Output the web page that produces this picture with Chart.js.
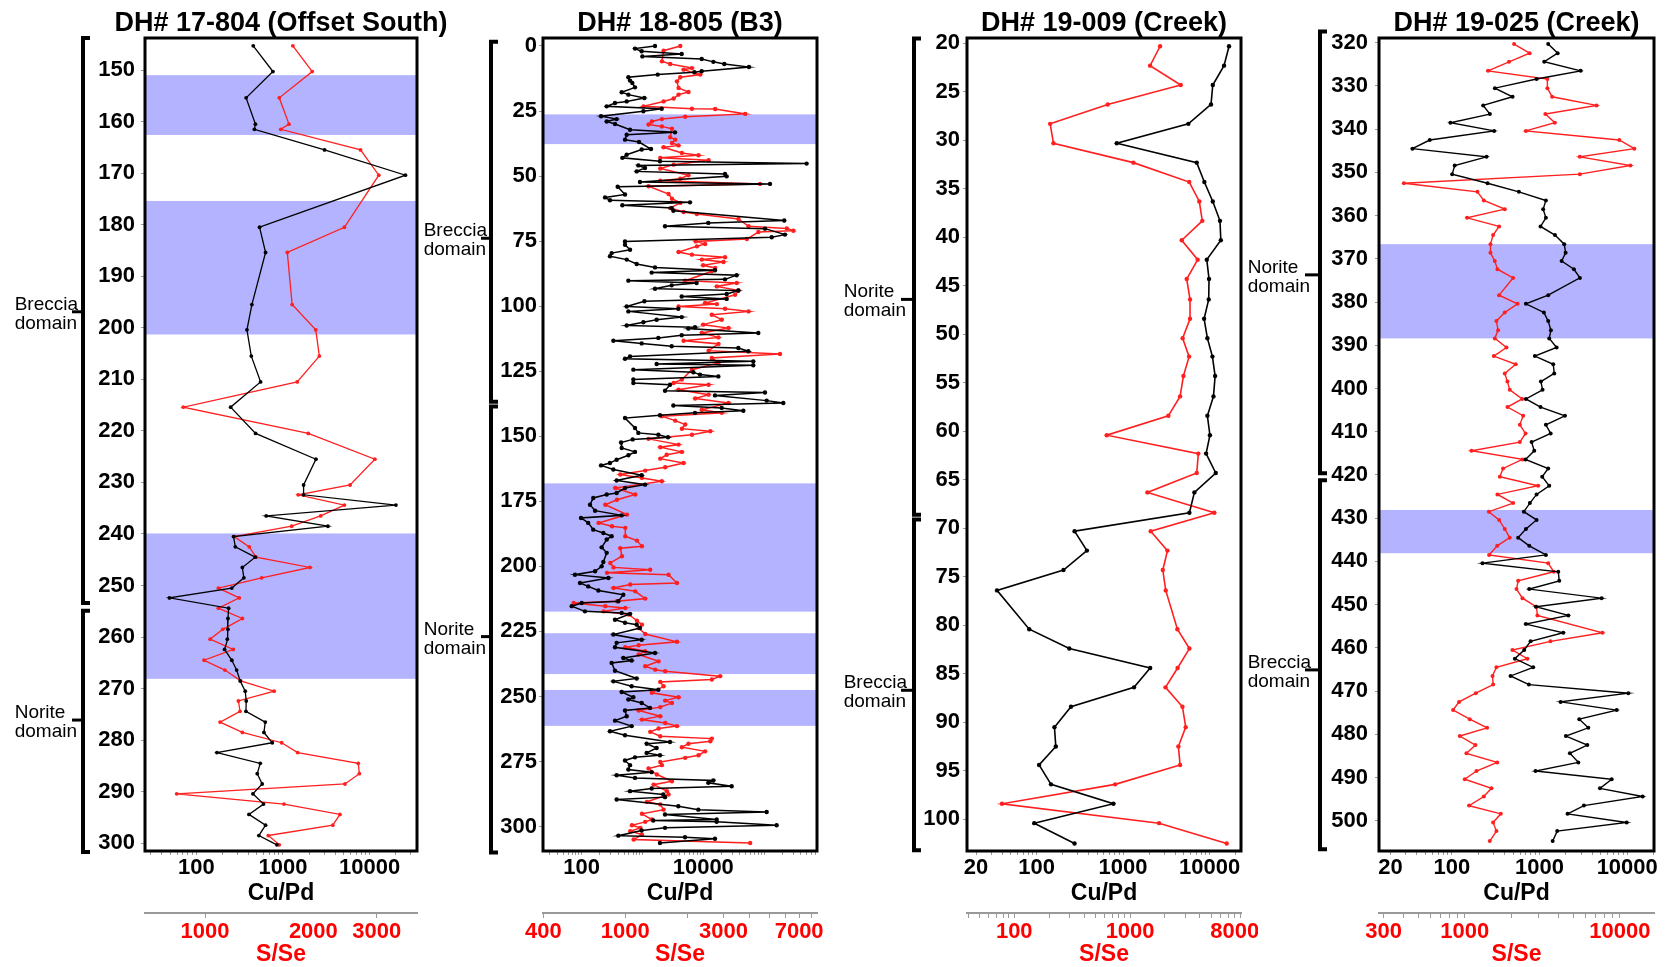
<!DOCTYPE html>
<html><head><meta charset="utf-8">
<script src="https://cdn.jsdelivr.net/npm/chart.js@4.4.1/dist/chart.umd.min.js"></script>
<style>
html,body{margin:0;padding:0;background:#fff;width:1667px;height:967px;overflow:hidden;}
canvas{position:absolute;top:0;}
</style></head><body>
<canvas id="c1" style="left:0px" width="460" height="967"></canvas>
<canvas id="c2" style="left:420px" width="420" height="967"></canvas>
<canvas id="c3" style="left:838px" width="420" height="967"></canvas>
<canvas id="c4" style="left:1245px" width="422" height="967"></canvas>
<script>
// ---------------- DATA ----------------
// Panel 1: DH# 17-804 (Offset South)
const p1Depth = [145.3,150.3,155.4,160.5,161.5,165.5,170.4,180.5,185.4,195.5,
 200.4,205.5,210.5,215.4,220.5,225.5,230.5,232.4,234.4,236.5,
 238.5,240.5,242.5,244.5,246.5,248.5,250.5,252.4,254.4,256.4,
 258.5,260.4,262.4,264.5,266.4,268.5,270.5,272.4,274.4,276.5,
 278.5,280.5,282.4,284.5,286.5,288.5,290.4,292.4,294.4,296.5,298.5,300.3];
const p1CuPd = [454,766,376,481,468,3020,25900,537,630,438,
 384,431,552,249,483,2400,1730,1730,20100,641,
 3300,269,282,479,340,354,257,49,236,232,
 232,228,212,257,292,321,367,377,374,625,
 603,753,173,547,505,576,450,597,405,630,527,851];
const p1SSe = [1754,1986,1608,1711,1624,2705,3040,2440,1693,1746,
 2031,2078,1804,870,1936,2965,2530,1815,2440,2096,
 1741,1206,1327,1386,1958,1437,1089,1245,1089,1270,
 1120,1033,1198,994,1136,1256,1556,1238,1251,1101,
 1270,1633,1809,2666,2685,2448,834,1657,2371,2265,1499,1608];
const p1YTicks = [150,160,170,180,190,200,210,220,230,240,250,260,270,280,290,300];
const p1CuPdLabels = [100,1000,10000];
const p1SSeLabels = [1000,2000,3000];
const p1SSeMarks = [1000,3000];
const p1BandTop = [151.0,175.4,239.9];
const p1BandBottom = [162.6,201.3,268.1];
const p1DomainNames = ['Breccia','Norite'];
const p1DomainTop = [143.8,254.9];
const p1DomainBottom = [253.4,301.7];
const p1DomainLabelAt = [196.9,276.1];

// Panel 2: DH# 18-805 (B3)
const p2CuPdDepth = [0,1.0,2.0,3.1,4.0,5.0,6.1,6.9,8.1,9.7,
 10.1,11.0,12.0,13.3,14.2,15.9,17.8,18.7,20.0,21.3,
 21.9,23.2,24.1,25.1,27.0,28.1,29.0,30.0,32.2,33.2,
 34.1,36.0,36.9,39.6,39.8,41.8,43.0,44.3,45.2,45.9,
 46.9,48.2,49.2,50.1,52.3,53.0,54.1,57.1,58.2,59.3,
 60.1,61.2,62.3,63.3,67.1,68.0,69.3,70.2,72.5,73.5,
 75.1,76.4,78.3,79.6,80.8,82.1,83.8,85.1,86.2,87.1,
 88.1,89.7,90.2,91.1,92.0,93.3,94.0,95.3,96.3,97.2,
 98.1,100.1,101.0,102.0,104.2,105.2,106.2,107.4,108.1,108.6,
 110.3,111.2,112.2,113.3,114.3,115.4,116.1,117.3,119.3,120.2,
 121.2,122.2,122.7,124.4,125.4,126.3,127.0,128.2,129.5,130.2,
 132.5,133.2,134.3,136.3,137.2,138.2,139.1,140.2,141.0,141.9,
 143.0,146.8,148.7,149.4,150.4,151.2,152.4,154.5,156.0,157.3,
 159.0,160.3,161.2,162.8,165.0,167.0,168.6,169.9,171.8,172.4,
 173.7,176.3,178.6,180.4,181.4,183.3,185.9,187.2,188.4,189.7,
 192.7,194.8,198.3,200.0,201.9,203.2,204.5,206.4,207.7,209.3,
 210.9,213.4,214.1,215.3,217.3,217.9,218.3,220.5,221.7,222.4,
 223.7,226.2,228.2,229.4,231.1,233.3,235.2,236.2,237.1,240.1,
 243.1,244.2,246.1,247.4,248.3,250.3,251.2,252.5,254.4,255.4,
 257.6,259.3,261.4,263.4,264.9,267.5,268.2,269.8,271.7,272.6,
 273.4,274.6,276.4,278.1,279.1,280.3,281.3,282.3,283.2,284.5,
 285.4,286.4,287.7,288.7,289.6,292.2,293.5,294.4,295.4,297.3,
 297.7,298.2,299.5,300.5,301.5,303.5,304.1,304.7,306.3];
const p2CuPd = [1607,753,970,4420,995,9420,14660,22180,56500,9420,
 7130,1780,586,624,681,753,455,586,1074,550,
 353,258,2070,1033,208,376,258,353,624,3430,
 550,516,877,1380,970,550,467,1941,501000,855,
 1101,803,22780,24270,910,125300,391,516,242,292,
 6050,467,3022,3220,215000,12100,2348,103600,221000,133400,
 516,516,624,311,292,550,803,1607,15600,1417,
 35400,22780,586,7780,3022,1607,37740,24270,4420,24270,
 1074,550,3890,586,4420,1710,1033,550,7310,5690,
 80490,4420,1824,332,970,3022,37740,55090,624,516,
 66500,1710,66500,708,6870,8830,17700,708,708,2838,
 2348,103600,15600,110400,207500,3220,20100,45600,7310,1941,
 516,753,855,1824,2630,690,444,455,753,586,
 376,292,208,332,970,376,1101,516,376,258,
 155,137,166,455,97.5,128,155,227,311,258,
 213,258,227,213,166,77.6,275,93.9,128,188,
 484,401,100,68.5,113,455,624,353,516,803,
 910,332,970,376,353,1607,484,664,311,353,
 803,332,664,1824,455,708,586,970,1330,516,
 550,353,664,292,516,2838,1172,1710,1172,1941,
 753,516,624,586,1417,376,753,14660,12100,29320,
 1417,624,2200,2348,376,3890,8298,110400,2348,16600,
 1504,16600,161000,2348,970,401,5008,15600,1941];
const p2SSeDepth = [0,1.8,5.9,6.9,8.5,9.1,11.0,12.0,13.6,16.1,
 17.7,18.7,20.2,21.3,23.2,24.1,24.2,26.1,27.2,28.1,
 29.0,30.2,30.9,31.8,35.1,36.0,37.3,38.2,38.9,41.1,
 42.0,43.0,43.9,45.6,47.1,49.7,51.0,51.8,53.0,53.9,
 56.9,58.7,60.3,62.3,63.8,64.6,66.5,69.3,70.1,71.0,
 71.5,74.2,75.1,76.1,77.0,79.2,80.2,81.2,82.1,83.0,
 84.3,85.3,86.6,90.2,91.1,92.4,94.0,95.6,98.8,99.2,
 100.1,101.0,102.0,103.3,105.2,107.1,108.4,110.3,112.0,113.3,
 114.5,117.1,118.4,119.9,121.8,124.4,128.2,129.5,130.2,132.1,
 134.0,135.5,137.2,139.8,141.0,142.3,144.0,145.5,147.1,148.1,
 149.4,151.0,153.2,154.2,156.0,157.1,158.6,160.3,161.9,163.2,
 164.7,166.0,167.3,169.9,172.4,174.4,176.3,180.1,183.3,184.6,
 185.2,188.4,190.1,192.3,193.0,196.1,198.7,200.4,201.3,202.5,
 203.2,206.4,207.0,208.3,209.6,212.4,213.4,214.1,215.3,216.0,
 217.3,218.5,220.9,222.4,223.7,226.0,229.0,230.3,231.1,232.6,
 233.9,236.5,238.4,239.7,240.3,242.2,243.5,244.4,246.1,248.6,
 250.3,251.6,252.5,254.1,255.4,257.6,258.9,260.2,261.4,262.3,
 263.6,265.3,266.2,267.2,268.2,269.5,271.1,272.6,273.6,275.2,
 276.4,277.7,280.0,282.6,283.9,286.4,287.7,290.5,291.5,293.5,
 295.1,297.3,298.2,299.5,300.5,301.8,303.1,305.0,306.3];
const p2SSe = [1850,1535,1507,1653,2108,1920,2313,1850,1783,1815,
 2028,1815,1718,1535,1227,2108,2735,3828,1955,1507,
 1346,1297,1507,1686,1653,1749,1686,1815,1535,1884,
 2270,1479,2541,1718,1479,2028,1850,1479,4520,1297,
 1623,1686,1850,1653,1920,2229,3550,3975,6100,6560,
 4436,3900,2200,2444,2229,1815,2108,3055,2355,3000,
 2390,2735,2635,1955,3482,2787,3550,3420,2444,2787,
 1815,3055,3975,2635,2944,2390,3174,2355,2838,1920,
 2838,2541,5650,2635,2838,2108,1884,1718,2541,1815,
 2541,2186,3174,2355,2944,1506,1749,1955,1884,2590,
 2108,1297,1815,1479,1884,1590,1479,1920,1563,1250,
 945,1205,1506,894,1118,911,800,1019,742,862,
 1000,1000,1139,1205,945,963,846,877,1322,815,
 1623,1783,1057,877,1118,1250,911,561,800,1000,
 785,1038,1139,1205,1161,1250,1783,1161,1000,1250,
 1161,1452,1250,1398,1563,2891,2635,1479,1535,1346,
 1815,1563,1686,1479,1161,1479,1205,1563,1783,1452,
 1322,1479,2635,2590,2028,1884,2444,2270,1955,1479,
 1506,1297,1424,1686,1373,1593,1623,1274,1479,1535,
 1205,1346,1250,1077,1183,1057,1205,1098,4047];
const p2YTicks = [0,25,50,75,100,125,150,175,200,225,250,275,300];
const p2CuPdLabels = [100,10000];
const p2SSeLabels = [400,1000,3000,7000];
const p2SSeMarks = [400,1000,2000,3000,4000,5000,6000,7000,8000];
const p2BandTop = [26.3,168.1,225.7,247.5];
const p2BandBottom = [37.7,217.4,241.4,261.3];
const p2DomainNames = ['Breccia','Norite'];
const p2DomainTop = [-1.65,138.6];
const p2DomainBottom = [136.7,310.0];
const p2DomainLabelAt = [73.9,227.0];

// Panel 3: DH# 19-009 (Creek)
const p3Depth = [20.3,22.3,24.3,26.3,28.3,30.3,32.3,34.3,36.3,38.3,
 40.3,42.3,44.3,46.4,48.4,50.4,52.3,54.3,56.4,58.4,
 60.4,62.3,64.3,66.3,68.4,70.3,72.3,74.3,76.4,80.4,
 82.4,84.4,86.4,88.4,90.5,92.5,94.4,96.4,98.4,100.4,102.5];
const p3CuPd = [16800,14700,10900,10400,5690,847,7110,8710,10900,13200,
 13500,9290,9860,9780,8650,9440,10800,11600,11100,9440,
 10100,9120,11800,6680,5850,275,382,205,34.9,82.3,
 239,2060,1340,250,161,167,107,147,774,94,275];
const p3SSe = [1815,1487,2735,641,204,218,1067,3240,3956,4200,
 2790,3830,3080,3290,3290,2840,3230,2885,2700,2138,
 629,3880,3760,1410,5330,1506,2100,1915,2030,2560,
 3250,2570,2020,2830,3020,2610,2700,743,78.3,1778,6820];
const p3YTicks = [20,25,30,35,40,45,50,55,60,65,70,75,80,85,90,95,100];
const p3CuPdLabels = [20,100,1000,10000];
const p3SSeLabels = [100,1000,8000];
const p3BandTop = [];
const p3BandBottom = [];
const p3DomainNames = ['Norite','Breccia'];
const p3DomainTop = [19.5,69.1];
const p3DomainBottom = [68.6,103.2];
const p3DomainLabelAt = [46.4,86.7];

// Panel 4: DH# 19-025 (Creek)
const p4CuPdDepth = [320.3,322.4,324.4,326.5,328.4,330.5,332.5,334.5,336.5,338.5,
 340.4,342.5,344.5,346.4,348.4,350.4,352.5,354.5,356.5,358.5,
 360.5,362.5,364.5,366.6,368.6,370.5,372.4,374.4,378.4,380.4,
 382.4,384.4,386.5,388.4,390.5,392.5,394.4,396.5,398.4,400.3,
 402.4,404.3,406.3,408.4,410.4,412.4,414.4,416.4,418.5,420.4,
 422.5,424.5,426.5,428.5,430.4,432.5,434.5,436.4,438.5,440.4,
 442.4,444.5,446.4,448.5,450.5,452.5,454.5,456.5,458.5,460.5,
 462.5,464.5,466.5,468.5,470.5,472.5,474.4,476.5,478.5,480.4,
 482.5,484.4,486.5,488.5,490.4,492.5,494.4,496.5,498.4,500.4,502.4,504.7];
const p4CuPd = [1257,1611,1132,2945,926,310,493,228,272,96.6,
 304,56.1,35.6,249,108,101,256,582,1183,1101,
 1183,1028,1500,1915,1986,1787,2470,2890,1257,700,
 1122,1257,1349,1291,1567,885,1435,1473,1038,1084,
 700,1028,1950,1183,1340,813,871,693,1257,1074,
 1291,926,777,663,926,700,571,764,1183,224,
 1637,1680,764,5110,910,2130,700,1866,791,669,
 524,848,468,757,10300,1742,7590,2840,3600,2000,
 3510,2220,2770,901,6650,4890,15000,3210,2090,9860,1592,1413];
const p4SSeDepth = [320.3,322.4,324.4,326.5,328.4,330.5,332.5,334.5,336.5,338.5,
 340.4,342.5,344.5,346.4,348.4,350.4,352.5,354.5,356.5,358.5,
 360.5,362.5,364.5,366.6,368.6,370.5,372.4,374.4,378.4,380.4,
 382.4,384.4,386.5,388.4,390.5,392.5,394.4,396.5,398.4,400.3,
 402.4,404.3,406.3,408.4,410.4,412.4,414.4,416.4,418.5,420.4,
 422.5,424.5,426.5,428.5,430.4,432.5,434.5,436.4,438.5,440.4,
 442.4,444.5,446.4,448.5,450.5,452.5,456.5,458.5,460.5,462.5,
 464.5,466.5,468.5,470.5,472.5,474.4,476.5,478.5,480.4,482.5,
 484.4,486.5,488.5,490.4,492.5,494.4,496.5,498.4,500.4,502.4,504.7];
const p4SSe = [2080,2620,1930,1413,3410,3410,3660,7080,3310,3810,
 2480,9910,12400,5520,11700,5520,405,1207,1327,1811,
 1035,1665,1523,1465,1465,1562,1625,2050,1665,2190,
 1811,1600,1640,1562,1858,1540,2130,1811,1885,1950,
 2345,1885,2380,2265,2465,2265,1105,2355,1766,1683,
 2970,1625,2050,1430,1665,1811,1950,1619,1435,3450,
 3750,2210,2155,2355,2900,2940,7730,3570,2030,2535,
 1600,1510,1525,1178,919,841,1077,1394,929,1172,
 1025,1619,1190,1000,1487,1327,1066,1708,1523,1600,1450];
const p4YTicks = [320,330,340,350,360,370,380,390,400,410,420,430,440,450,460,470,480,490,500];
const p4CuPdLabels = [20,100,1000,10000];
const p4SSeLabels = [300,1000,10000];
const p4BandTop = [366.6,428.1];
const p4BandBottom = [388.4,438.1];
const p4DomainNames = ['Norite','Breccia'];
const p4DomainTop = [317.4,421.2];
const p4DomainBottom = [419.6,506.6];
const p4DomainLabelAt = [373.7,465.1];

// ---------------- DRAWING ----------------
const FONT = '"Liberation Sans", Arial, Helvetica, sans-serif';
const RED = '#ff1f1f';

function logMarks(min, max) {
  const out = [];
  for (let e = Math.floor(Math.log10(min)); e <= Math.ceil(Math.log10(max)); e++) {
    for (let m = 1; m <= 9; m++) {
      const v = Number((m * Math.pow(10, e)).toPrecision(6));
      if (v >= min && v <= max) out.push(v);
    }
  }
  return out;
}
function isLabel(v, labels) { return labels.some(L => Math.abs(v - L) <= L * 1e-6); }

function makePanel(p) {
  const decor = {
    id: 'decor_' + p.id,
    beforeDatasetsDraw(chart) {
      const {ctx, chartArea: a, scales: {y}} = chart;
      ctx.save();
      ctx.fillStyle = '#b3b3ff';
      p.bandTop.forEach((t, i) => {
        const y1 = y.getPixelForValue(t), y2 = y.getPixelForValue(p.bandBottom[i]);
        ctx.fillRect(a.left, y1, a.right - a.left, y2 - y1);
      });
      ctx.restore();
    },
    afterDraw(chart) {
      const {ctx, chartArea: a, scales: {y}} = chart;
      ctx.save();
      // panel title
      ctx.fillStyle = '#000';
      ctx.font = 'bold 27px ' + FONT;
      ctx.textAlign = 'center'; ctx.textBaseline = 'alphabetic';
      ctx.fillText(p.title, (a.left + a.right) / 2, 31);
      // plot frame
      ctx.strokeStyle = '#000';
      ctx.lineWidth = 3;
      ctx.strokeRect(a.left, a.top, a.right - a.left, a.bottom - a.top);
      // domain brackets
      const bx = p.bracketX - p.left, tl = p.tickLeft - p.left;
      ctx.lineCap = 'butt'; ctx.lineJoin = 'miter';
      ctx.font = '19px ' + FONT;
      ctx.textAlign = 'left';
      const dw = ctx.measureText('domain').width;
      p.domainNames.forEach((name, i) => {
        const yt = y.getPixelForValue(p.domainTop[i]);
        const yb = y.getPixelForValue(p.domainBottom[i]);
        ctx.lineWidth = 4;
        ctx.beginPath();
        ctx.moveTo(bx + 7, yt); ctx.lineTo(bx, yt); ctx.lineTo(bx, yb); ctx.lineTo(bx + 7, yb);
        ctx.stroke();
        const ym = y.getPixelForValue(p.domainLabelAt[i]);
        ctx.lineWidth = 3;
        ctx.beginPath(); ctx.moveTo(tl, ym); ctx.lineTo(bx, ym); ctx.stroke();
        const lx = tl + 5 - dw;
        ctx.fillText(name, lx, ym - 2);
        ctx.fillText('domain', lx, ym + 17);
      });
      ctx.restore();
    }
  };
  const tickFont = {family: FONT, size: 22, weight: 'bold', lineHeight: 1};
  const titleFont = {family: FONT, size: 23, weight: 'bold', lineHeight: 1};
  new Chart(document.getElementById(p.id), {
    type: 'scatter',
    data: {datasets: [
      {data: p.cuDepth.map((d, i) => ({x: p.cuVal[i], y: d})), xAxisID: 'cu', yAxisID: 'y',
       showLine: true, borderColor: '#000', backgroundColor: '#000', pointBackgroundColor: '#000',
       pointBorderColor: '#000', pointRadius: p.r, pointBorderWidth: 0, borderWidth: p.lw},
      {data: p.sDepth.map((d, i) => ({x: p.sVal[i], y: d})), xAxisID: 'sse', yAxisID: 'y',
       showLine: true, borderColor: RED, backgroundColor: RED, pointBackgroundColor: RED,
       pointBorderColor: RED, pointRadius: p.r, pointBorderWidth: 0, borderWidth: p.lw}
    ]},
    options: {
      responsive: false, animation: false, devicePixelRatio: 1, events: [],
      layout: {padding: {left: 0, right: p.padRight, top: 38, bottom: 0}},
      plugins: {legend: {display: false}, tooltip: {enabled: false}, title: {display: false}},
      scales: {
        y: {type: 'linear', position: 'left', reverse: true, min: p.yMin, max: p.yMax,
          afterFit(s) { s.width = p.yw; },
          afterBuildTicks(s) { s.ticks = p.yTicks.map(v => ({value: v})); },
          grid: {drawOnChartArea: false, drawTicks: true, tickLength: 4, color: '#999'},
          border: {display: false},
          ticks: {color: '#000', font: tickFont, padding: p.yPad, autoSkip: false}},
        cu: {type: 'logarithmic', position: 'bottom', weight: 0, min: p.cuMin, max: p.cuMax,
          afterFit(s) { s.height = 62; },
          afterBuildTicks(s) { s.ticks = logMarks(p.cuMin, p.cuMax).map(v => ({value: v})); },
          grid: {drawOnChartArea: false, drawTicks: true, tickLength: 4, color: '#999'},
          border: {display: false},
          ticks: {autoSkip: false, maxRotation: 0, minRotation: 0, color: '#000', font: tickFont, padding: 2,
            callback: (v) => isLabel(v, p.cuLabels) ? String(v) : ''},
          title: {display: true, text: 'Cu/Pd', color: '#000', font: titleFont, padding: {top: 0, bottom: 8}}},
        sse: {type: 'logarithmic', position: 'bottom', weight: 1, min: p.sMin, max: p.sMax,
          afterFit(s) { s.height = 54; },
          afterBuildTicks(s) {
            const marks = p.sMarks || logMarks(p.sMin, p.sMax);
            s.ticks = Array.from(new Set(marks.concat(p.sLabels))).sort((a, b) => a - b).map(v => ({value: v}));
          },
          grid: {drawOnChartArea: false, drawTicks: true, tickLength: 5,
            color: (c) => (!p.sMarks || (c.tick && p.sMarks.includes(c.tick.value))) ? '#999' : 'rgba(0,0,0,0)'},
          border: {display: true, color: '#999', width: 2},
          ticks: {autoSkip: false, maxRotation: 0, minRotation: 0, color: '#ff0000', font: tickFont, padding: 3,
            callback: (v) => isLabel(v, p.sLabels) ? String(v) : ''},
          title: {display: true, text: 'S/Se', color: '#ff0000', font: titleFont, padding: {top: 0, bottom: 1}}}
      }
    },
    plugins: [decor]
  });
}

makePanel({id: 'c1', left: 0, yw: 145, padRight: 43, title: 'DH# 17-804 (Offset South)',
  yMin: 143.79, yMax: 301.5, yTicks: p1YTicks, yPad: 6,
  cuMin: 25.6, cuMax: 35200, cuLabels: p1CuPdLabels, sMin: 681, sMax: 3882, sLabels: p1SSeLabels, sMarks: p1SSeMarks,
  cuDepth: p1Depth, cuVal: p1CuPd, sDepth: p1Depth, sVal: p1SSe,
  bandTop: p1BandTop, bandBottom: p1BandBottom,
  domainNames: p1DomainNames, domainTop: p1DomainTop, domainBottom: p1DomainBottom, domainLabelAt: p1DomainLabelAt,
  bracketX: 83, tickLeft: 72, r: 1.9, lw: 1.3});
makePanel({id: 'c2', left: 420, yw: 123, padRight: 23, title: 'DH# 18-805 (B3)',
  yMin: -3.07, yMax: 309.4, yTicks: p2YTicks, yPad: 2,
  cuMin: 23.1, cuMax: 743000, cuLabels: p2CuPdLabels, sMin: 398, sMax: 8550, sLabels: p2SSeLabels, sMarks: p2SSeMarks,
  cuDepth: p2CuPdDepth, cuVal: p2CuPd, sDepth: p2SSeDepth, sVal: p2SSe,
  bandTop: p2BandTop, bandBottom: p2BandBottom,
  domainNames: p2DomainNames, domainTop: p2DomainTop, domainBottom: p2DomainBottom, domainLabelAt: p2DomainLabelAt,
  bracketX: 491, tickLeft: 481, r: 2.2, lw: 1.5});
makePanel({id: 'c3', left: 838, yw: 129, padRight: 17, title: 'DH# 19-009 (Creek)',
  yMin: 19.45, yMax: 103.27, yTicks: p3YTicks, yPad: 3,
  cuMin: 15.7, cuMax: 23100, cuLabels: p3CuPdLabels, sMin: 39.1, sMax: 9060, sLabels: p3SSeLabels,
  cuDepth: p3Depth, cuVal: p3CuPd, sDepth: p3Depth, sVal: p3SSe,
  bandTop: p3BandTop, bandBottom: p3BandBottom,
  domainNames: p3DomainNames, domainTop: p3DomainTop, domainBottom: p3DomainBottom, domainLabelAt: p3DomainLabelAt,
  bracketX: 914, tickLeft: 901, r: 2.2, lw: 1.6});
makePanel({id: 'c4', left: 1245, yw: 134, padRight: 13, title: 'DH# 19-025 (Creek)',
  yMin: 318.9, yMax: 507.0, yTicks: p4YTicks, yPad: 7,
  cuMin: 14.8, cuMax: 20200, cuLabels: p4CuPdLabels, sMin: 280, sMax: 16600, sLabels: p4SSeLabels,
  cuDepth: p4CuPdDepth, cuVal: p4CuPd, sDepth: p4SSeDepth, sVal: p4SSe,
  bandTop: p4BandTop, bandBottom: p4BandBottom,
  domainNames: p4DomainNames, domainTop: p4DomainTop, domainBottom: p4DomainBottom, domainLabelAt: p4DomainLabelAt,
  bracketX: 1320, tickLeft: 1305, r: 2.0, lw: 1.4});
</script>
</body></html>
